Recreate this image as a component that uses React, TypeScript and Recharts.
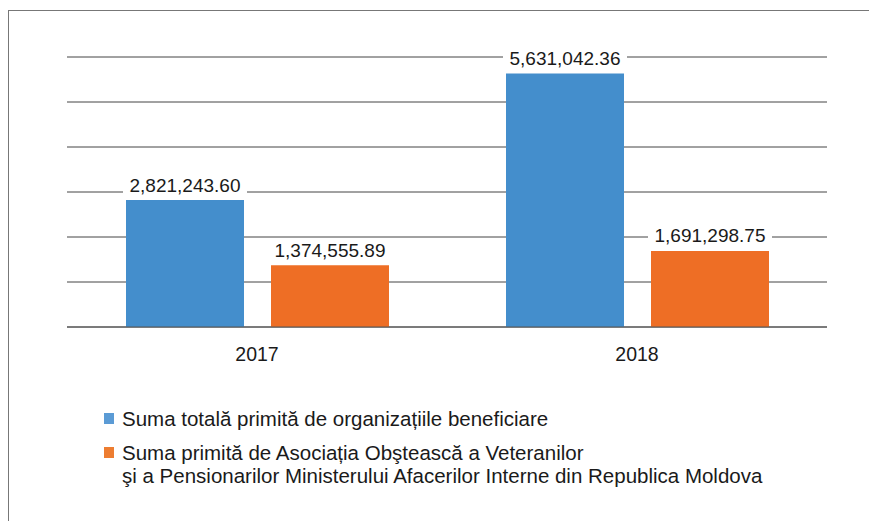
import { Bar, BarChart, CartesianGrid, LabelList, Legend, XAxis, YAxis } from "recharts";

const years = ["2017", "2018"];
const totalReceived = [2821243.6, 5631042.36];
const veteransReceived = [1374555.89, 1691298.75];
const yTicks = [0, 1000000, 2000000, 3000000, 4000000, 5000000, 6000000];

const seriesNames = [
  "Suma totală primită de organizațiile beneficiare",
  "Suma primită de Asociația Obştească a Veteranilor\nşi a Pensionarilor Ministerului Afacerilor Interne din Republica Moldova",
];
const barColors = ["#448ECC", "#EE6E25"];
const legendColors = ["#5B9BD5", "#ED7D31"];

const data = years.map((year, i) => ({
  year,
  total: totalReceived[i],
  veterans: veteransReceived[i],
}));

const FONT = "'Liberation Sans', Arial, sans-serif";

const fmt = (v: number) =>
  v.toLocaleString("en-US", { minimumFractionDigits: 2, maximumFractionDigits: 2 });

const ValueLabel = (props: any) => {
  const { x, y, width, value } = props;
  const cx = x + width / 2;
  const cy = y - 15;
  return (
    <g>
      <rect x={cx - 62} y={cy - 10} width={124} height={20} fill="#fff" />
      <text
        x={cx}
        y={cy + 6.5}
        textAnchor="middle"
        fontSize={19}
        fontFamily={FONT}
        fill="#1a1a1a"
      >
        {fmt(value)}
      </text>
    </g>
  );
};

const renderLegend = () => (
  <div style={{ fontFamily: FONT, fontSize: 20.5, lineHeight: "23px", color: "#1a1a1a" }}>
    {seriesNames.map((name, i) => (
      <div key={i} style={{ position: "relative", paddingLeft: 18, marginBottom: 11 }}>
        <span
          style={{
            position: "absolute",
            left: 0,
            top: 6,
            width: 10,
            height: 11,
            background: legendColors[i],
          }}
        />
        {name.split("\n").map((line, j) => (
          <div key={j} style={{ whiteSpace: "nowrap" }}>
            {line}
          </div>
        ))}
      </div>
    ))}
  </div>
);

export default function App() {
  return (
    <div style={{ position: "relative", width: 869, height: 513 }}>
      <div
        style={{
          position: "absolute",
          left: 0,
          top: 2,
          width: 869,
          height: 511,
          borderLeft: "1px solid #777",
          borderTop: "1px solid #777",
          boxSizing: "border-box",
        }}
      />
      <div style={{ position: "absolute", left: 0, top: 0 }}>
        <BarChart
          width={869}
          height={513}
          data={data}
          margin={{ top: 49, right: 50, left: 59, bottom: 164 }}
          barSize={118}
          barGap={27}
        >
          <CartesianGrid vertical={false} stroke="#444" strokeWidth={1} />
          <XAxis
            dataKey="year"
            height={30}
            tickLine={false}
            tickSize={0}
            tickMargin={20}
            axisLine={{ stroke: "#555" }}
            tick={{ fontSize: 19.5, fontFamily: FONT, fill: "#1a1a1a" }}
          />
          <YAxis hide width={0} domain={[0, 6000000]} ticks={yTicks} />
          <Legend
            layout="vertical"
            align="center"
            verticalAlign="middle"
            content={renderLegend}
            wrapperStyle={{ left: 96, top: 399, width: 760 }}
          />
          <Bar dataKey="total" name={seriesNames[0]} fill={barColors[0]} isAnimationActive={false}>
            <LabelList dataKey="total" content={ValueLabel} />
          </Bar>
          <Bar dataKey="veterans" name={seriesNames[1]} fill={barColors[1]} isAnimationActive={false}>
            <LabelList dataKey="veterans" content={ValueLabel} />
          </Bar>
        </BarChart>
      </div>
    </div>
  );
}
